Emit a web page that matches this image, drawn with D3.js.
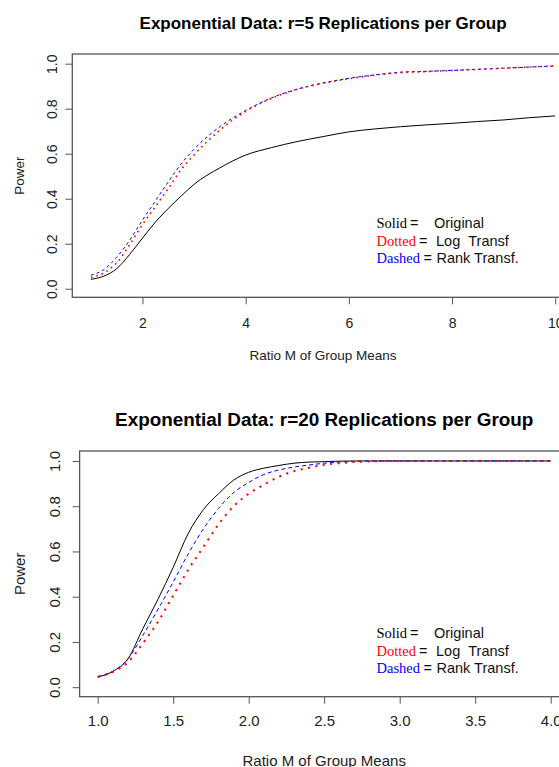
<!DOCTYPE html>
<html>
<head>
<meta charset="utf-8">
<script src="https://cdn.jsdelivr.net/npm/d3@7"></script>
<style>
  body { margin: 0; background: #fff; }
  svg { display: block; font-family: Arial, "Liberation Sans", sans-serif; }
  .tick text { fill: #222; }
</style>
</head>
<body>
<div id="chart"></div>
<script>
// Panel 1 data: r=5 replications
var ratio5 = [1, 1.25, 1.5, 1.75, 2, 2.25, 2.5, 2.75, 3, 3.5, 4, 4.5, 5, 5.5, 6, 6.5, 7, 7.5, 8, 8.5, 9, 9.5, 10];
var solid5 = [0.042, 0.056, 0.089, 0.152, 0.225, 0.296, 0.357, 0.412, 0.464, 0.537, 0.594, 0.627, 0.654, 0.676, 0.697, 0.71, 0.72, 0.728, 0.735, 0.743, 0.75, 0.76, 0.768];
var dotted5 = [0.05, 0.07, 0.115, 0.195, 0.285, 0.365, 0.445, 0.53, 0.595, 0.705, 0.788, 0.846, 0.886, 0.913, 0.933, 0.949, 0.96, 0.965, 0.97, 0.975, 0.98, 0.985, 0.99];
var dashed5 = [0.06, 0.085, 0.14, 0.215, 0.305, 0.39, 0.475, 0.555, 0.62, 0.72, 0.792, 0.848, 0.887, 0.914, 0.935, 0.95, 0.962, 0.966, 0.97, 0.975, 0.98, 0.985, 0.99];

// Panel 2 data: r=20 replications
var ratio20 = [1, 1.1, 1.2, 1.3, 1.4, 1.5, 1.6, 1.7, 1.8, 1.9, 2, 2.1, 2.2, 2.3, 2.4, 2.5, 2.6, 2.7, 2.8, 3, 3.2, 3.4, 3.6, 3.8, 4];
var solid20 = [0.045, 0.07, 0.125, 0.26, 0.39, 0.53, 0.68, 0.785, 0.855, 0.915, 0.95, 0.968, 0.98, 0.99, 0.995, 0.997, 0.999, 1, 1, 1, 1, 1, 1, 1, 1];
var dotted20 = [0.045, 0.068, 0.11, 0.195, 0.29, 0.405, 0.52, 0.62, 0.72, 0.8, 0.855, 0.895, 0.93, 0.955, 0.97, 0.983, 0.99, 0.995, 0.998, 1, 1, 1, 1, 1, 1];
var dashed20 = [0.047, 0.07, 0.125, 0.23, 0.345, 0.465, 0.59, 0.7, 0.79, 0.86, 0.905, 0.94, 0.96, 0.973, 0.982, 0.99, 0.995, 0.998, 1, 1, 1, 1, 1, 1, 1];

// Tick labels
var xTicks5 = [2, 4, 6, 8, 10];
var xTicks20 = [1, 1.5, 2, 2.5, 3, 3.5, 4];
var yTicks = [0, 0.2, 0.4, 0.6, 0.8, 1.0];

var width = 559, height = 767;

var svg = d3.select('#chart').append('svg')
    .attr('width', width)
    .attr('height', height);

function drawPanel(p) {
    var x = d3.scaleLinear().domain(p.xDomain).range([p.left, p.right]);
    var y = d3.scaleLinear().domain(p.yDomain).range([p.bottom, p.top]);
    var g = svg.append('g');

    // title
    g.append('text')
        .attr('x', (p.left + p.right) / 2)
        .attr('y', p.titleY)
        .attr('text-anchor', 'middle')
        .attr('font-weight', 'bold')
        .attr('font-size', p.titleSize)
        .attr('fill', '#000')
        .text(p.title);

    // x axis
    var xAxis = d3.axisBottom(x).tickValues(p.xTicks).tickSize(7).tickSizeOuter(0)
        .tickFormat(p.xFormat);
    var gx = g.append('g')
        .attr('transform', 'translate(0,' + p.bottom + ')')
        .call(xAxis);
    gx.select('.domain').remove();
    gx.selectAll('.tick line').attr('stroke', '#555');
    gx.selectAll('.tick text')
        .attr('font-size', p.tickSize)
        .attr('font-family', 'Arial, "Liberation Sans", sans-serif')
        .attr('dy', null)
        .attr('y', p.xLabelBase - p.bottom);

    // y axis
    var yAxis = d3.axisLeft(y).tickValues(yTicks).tickSize(7).tickSizeOuter(0)
        .tickFormat(d3.format('.1f'));
    var gy = g.append('g')
        .attr('transform', 'translate(' + p.left + ',0)')
        .call(yAxis);
    gy.select('.domain').remove();
    gy.selectAll('.tick line').attr('stroke', '#555');
    gy.selectAll('.tick text')
        .attr('font-size', p.tickSize)
        .attr('font-family', 'Arial, "Liberation Sans", sans-serif')
        .attr('x', null)
        .attr('dy', null)
        .attr('text-anchor', 'middle')
        .attr('transform', 'translate(' + (p.yLabelBase - p.left) + ',0) rotate(-90)');

    // box
    g.append('rect')
        .attr('x', p.left).attr('y', p.top)
        .attr('width', p.right - p.left).attr('height', p.bottom - p.top)
        .attr('fill', 'none').attr('stroke', '#555').attr('stroke-width', 1.3);

    // axis titles
    g.append('text')
        .attr('x', (p.left + p.right) / 2)
        .attr('y', p.xTitleY)
        .attr('text-anchor', 'middle')
        .attr('font-size', p.labelSize)
        .attr('fill', '#222')
        .text('Ratio M of Group Means');
    g.append('text')
        .attr('transform', 'translate(' + p.yTitleX + ',' + (p.top + p.bottom) / 2 + ') rotate(-90)')
        .attr('text-anchor', 'middle')
        .attr('font-size', p.labelSize)
        .attr('fill', '#222')
        .text('Power');

    // lines
    var line = d3.line()
        .x(function (d) { return x(d[0]); })
        .y(function (d) { return y(d[1]); })
        .curve(d3.curveMonotoneX);

    var series = [
        { vals: p.solid, color: '#000', w: 1, dash: null },
        { vals: p.dashed, color: '#0000ff', w: 1, dash: p.dashDash },
        { vals: p.dotted, color: '#ff0000', w: p.dotW, dash: p.dotDash }
    ];
    series.forEach(function (s) {
        g.append('path')
            .datum(p.xs.map(function (v, i) { return [v, s.vals[i]]; }))
            .attr('d', line)
            .attr('fill', 'none')
            .attr('stroke', s.color)
            .attr('stroke-width', s.w)
            .attr('stroke-dasharray', s.dash);
    });

    // legend
    var lx = 376.5;
    var rows = [
        { word: 'Solid', color: '#000', eqX: 410, rest: 'Original', restX: 434 },
        { word: 'Dotted', color: '#ff0000', eqX: 419, rest: 'Log\u00a0\u00a0Transf', restX: 436 },
        { word: 'Dashed', color: '#0000ff', eqX: 423.5, rest: 'Rank Transf.', restX: 436.5 }
    ];
    rows.forEach(function (r, i) {
        var ty = p.legendY + i * 17.2;
        g.append('text')
            .attr('x', lx).attr('y', ty)
            .attr('font-family', '"Liberation Serif", "Times New Roman", serif')
            .attr('font-size', 14.5)
            .attr('fill', r.color)
            .text(r.word);
        g.append('text')
            .attr('x', r.eqX).attr('y', ty)
            .attr('font-size', 14.5)
            .attr('fill', '#111')
            .text('=');
        g.append('text')
            .attr('x', r.restX).attr('y', ty)
            .attr('font-size', 14.5)
            .attr('fill', '#111')
            .text(r.rest);
    });
}

drawPanel({
    title: 'Exponential Data: r=5 Replications per Group',
    titleY: 29, titleSize: 17,
    left: 72.3, right: 573.8, top: 54, bottom: 297.3,
    xDomain: [0.64, 10.36], yDomain: [-0.038, 1.043],
    xTicks: xTicks5, xFormat: d3.format('d'),
    tickSize: 14, labelSize: 13.5,
    xLabelBase: 328.5, yLabelBase: 57,
    xTitleY: 360, yTitleX: 24,
    xs: ratio5, solid: solid5, dotted: dotted5, dashed: dashed5,
    dashDash: '3,3', dotW: 1.6, dotDash: '1.6,4',
    legendY: 228.3
});

drawPanel({
    title: 'Exponential Data: r=20 Replications per Group',
    titleY: 426, titleSize: 18.9,
    left: 79.6, right: 568.8, top: 451, bottom: 696.7,
    xDomain: [0.88, 4.12], yDomain: [-0.042, 1.044],
    xTicks: xTicks20, xFormat: d3.format('.1f'),
    tickSize: 15, labelSize: 15,
    xLabelBase: 726.5, yLabelBase: 59.5,
    xTitleY: 766, yTitleX: 25,
    xs: ratio20, solid: solid20, dotted: dotted20, dashed: dashed20,
    dashDash: '4,3', dotW: 2, dotDash: '2,5.5',
    legendY: 638.3
});
</script>
</body>
</html>
